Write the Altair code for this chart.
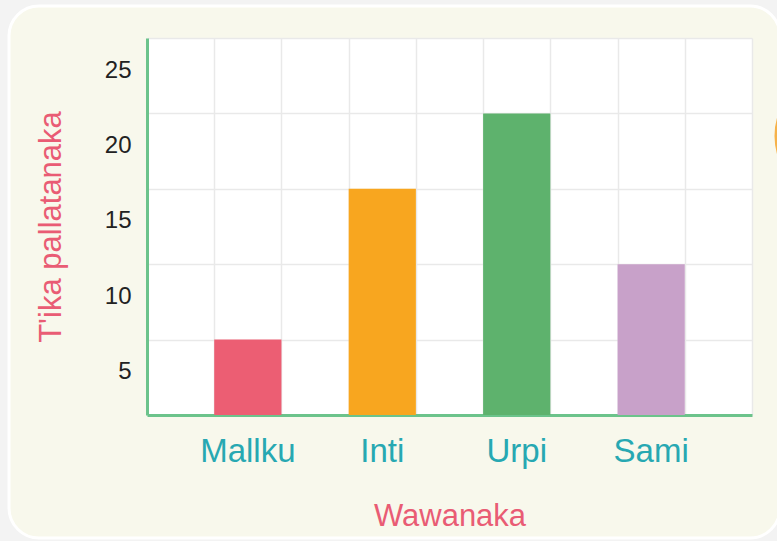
import altair as alt
import pandas as pd

# Flower counts per child
categories = ["Mallku", "Inti", "Urpi", "Sami"]
counts = [5, 15, 20, 10]
bar_colors = ["#ec5e73", "#f8a61f", "#5eb26d", "#c8a1c9"]
y_ticks = [5, 10, 15, 20, 25]
y_max = 25

PLOT_W, PLOT_H = 605, 377
PAD = {"left": 147, "top": 38, "right": 25, "bottom": 126}

CREAM = "#f8f8ec"
GREEN = "#6cc38b"
GRID = "#e9e9e9"
PINK = "#e95c74"
TEAL = "#27a8b2"
FONT = "Liberation Sans"

df = pd.DataFrame({"name": categories, "count": counts})

# each category takes one slot, separated and flanked by empty slots
n_slots = 2 * len(categories) + 1
slot_edges = list(range(n_slots + 1))

one = alt.Data(values=[{}])

# vertical grid lines on a slot scale
grid = alt.Chart(one).mark_point(opacity=0).encode(
    x=alt.XDatum(
        0,
        type="quantitative",
        scale=alt.Scale(domain=[0, n_slots], nice=False, zero=False),
        axis=alt.Axis(
            orient="top", values=slot_edges, grid=True, gridColor=GRID,
            gridWidth=1.5, labels=False, ticks=False, domain=False, title=None,
        ),
    )
)

bars = alt.Chart(df).mark_bar().encode(
    x=alt.X(
        "name:N",
        sort=categories,
        scale=alt.Scale(paddingInner=0.5, paddingOuter=0.5),
        axis=alt.Axis(
            title="Wawanaka", orient="bottom", grid=False, ticks=False, tickSize=0,
            domainColor=GREEN, domainWidth=3, labelAngle=0,
            labelFont=FONT, labelFontSize=33, labelFontWeight="normal",
            labelColor=TEAL, labelPadding=20,
            titleFont=FONT, titleFontSize=31, titleFontWeight="normal",
            titleColor=PINK, titlePadding=33,
        ),
    ),
    y=alt.Y(
        "count:Q",
        scale=alt.Scale(domain=[0, y_max], nice=False),
        axis=alt.Axis(
            title="T'ika pallatanaka", values=y_ticks, grid=True, gridColor=GRID,
            gridWidth=1.5, ticks=False, tickSize=0, domainColor=GREEN,
            domainWidth=3, labelFont=FONT, labelFontSize=24,
            labelColor="#222222", labelPadding=16, labelOffset=32,
            labelFlush=False,
            titleFont=FONT, titleFontSize=31, titleFontWeight="normal",
            titleColor=PINK, titlePadding=37,
        ),
    ),
    color=alt.Color("name:N", scale=alt.Scale(domain=categories, range=bar_colors),
                    legend=None),
)

# panel edges relative to the plot origin
px0, py0 = 9 - PAD["left"], 6 - PAD["top"]
px1, py1 = 780 - PAD["left"], 538 - PAD["top"]
R = 30
M = 60

# outside of the rounded panel
mask = alt.Chart(one).mark_rect(
    fillOpacity=0, stroke="#f3f3f3", strokeWidth=2 * M, cornerRadius=R + M
).encode(
    x=alt.value(px0 - M), x2=alt.value(px1 + M),
    y=alt.value(py0 - M), y2=alt.value(py1 + M),
)

rim = alt.Chart(one).mark_rect(
    fillOpacity=0, stroke="#ffffff", strokeWidth=3, cornerRadius=R
).encode(
    x=alt.value(px0), x2=alt.value(px1), y=alt.value(py0), y2=alt.value(py1),
)

badge = alt.Chart(one).mark_point(
    shape="circle", size=124 ** 2, filled=False, fill="#fbf8ea", fillOpacity=1,
    stroke="#f6b24a", strokeWidth=3, opacity=1,
).encode(x=alt.value(838 - PAD["left"]), y=alt.value(136 - PAD["top"]))

chart = (
    alt.layer(grid, bars, mask, rim, badge)
    .resolve_scale(x="independent")
    .properties(
        width=PLOT_W, height=PLOT_H,
        autosize=alt.AutoSizeParams(type="none"),
        padding=PAD,
    )
    .configure(background=CREAM)
    .configure_view(fill="white", stroke=None)
)

chart.save("out.html", embed_options={"renderer": "svg", "actions": False})
